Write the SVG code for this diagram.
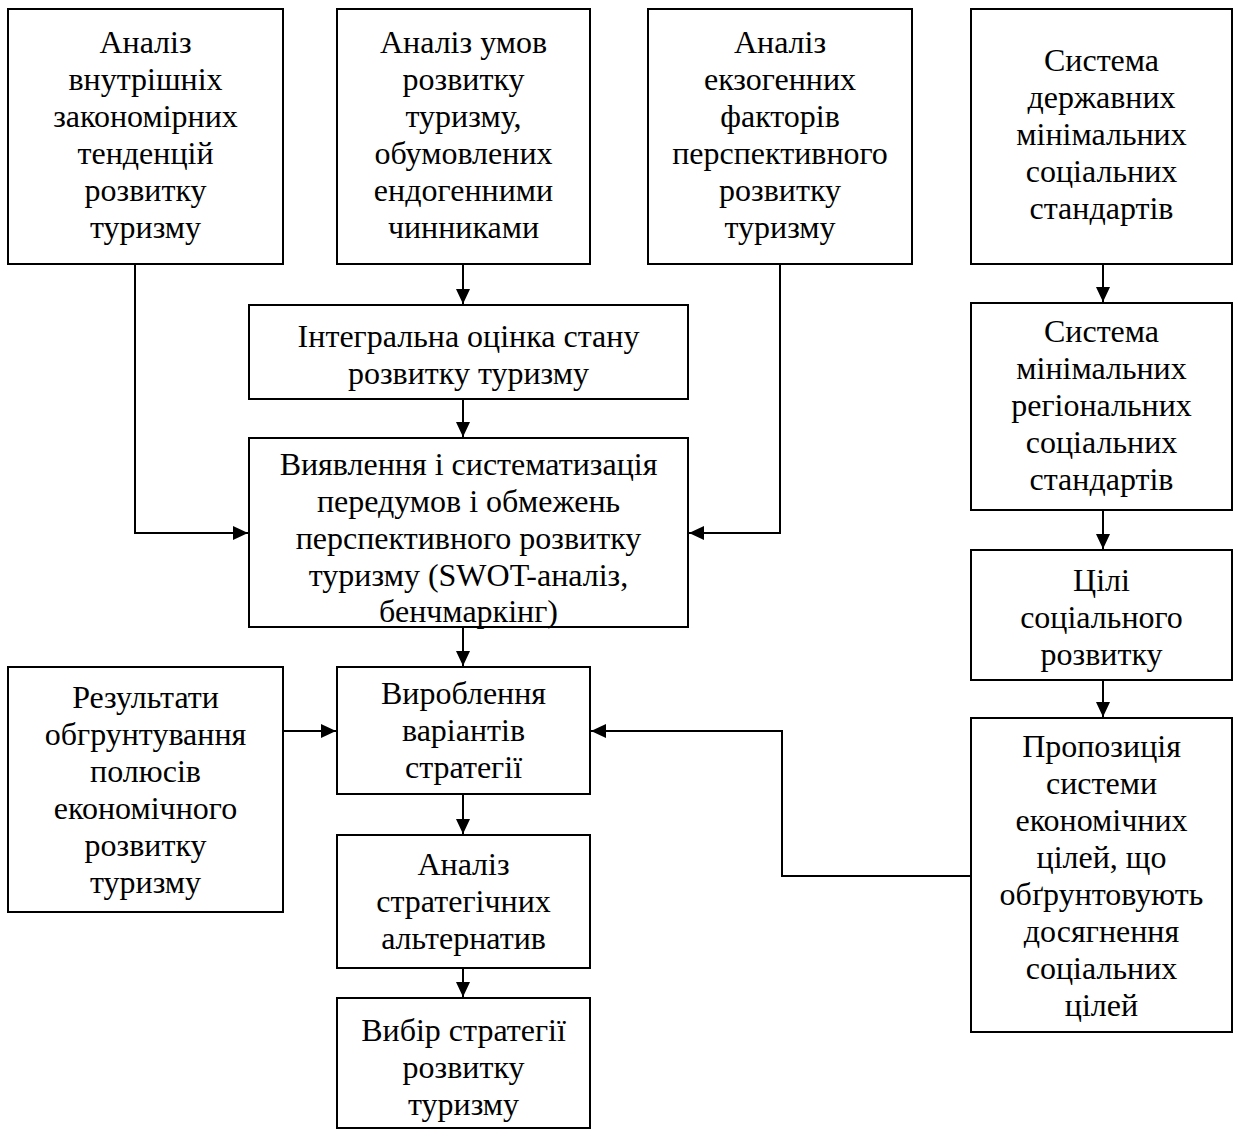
<svg xmlns="http://www.w3.org/2000/svg" width="1234" height="1130" viewBox="0 0 1234 1130">
<style>
rect.n{fill:#fff;stroke:#000;stroke-width:2}
text{font-family:"Liberation Serif","Times New Roman",serif;font-size:32px;fill:#000;text-anchor:middle}
.c{fill:none;stroke:#000;stroke-width:2}
</style>
<defs>
<marker id="ah" markerUnits="userSpaceOnUse" markerWidth="16" markerHeight="14" refX="15" refY="7" orient="auto">
<path d="M0,0 L15,7 L0,14 Z" fill="#000"/>
</marker>
</defs>
<rect width="1234" height="1130" fill="#fff"/>
<g id="connectors">
<path class="c" d="M135,264 V533 H248" marker-end="url(#ah)"/>
<path class="c" d="M463,264 V304" marker-end="url(#ah)"/>
<path class="c" d="M780,264 V533 H689" marker-end="url(#ah)"/>
<path class="c" d="M1103,264 V302" marker-end="url(#ah)"/>
<path class="c" d="M463,399 V437" marker-end="url(#ah)"/>
<path class="c" d="M1103,510 V549" marker-end="url(#ah)"/>
<path class="c" d="M463,627 V666" marker-end="url(#ah)"/>
<path class="c" d="M1103,680 V717" marker-end="url(#ah)"/>
<path class="c" d="M283,731 H336" marker-end="url(#ah)"/>
<path class="c" d="M971,876 H782 V731 H591" marker-end="url(#ah)"/>
<path class="c" d="M463,794 V834" marker-end="url(#ah)"/>
<path class="c" d="M463,968 V997" marker-end="url(#ah)"/>
</g>
<g id="n1"><rect class="n" x="8" y="9" width="275" height="255"/>
<text><tspan x="145.5" y="53">Аналіз</tspan><tspan x="145.5" y="90">внутрішніх</tspan><tspan x="145.5" y="127">закономірних</tspan><tspan x="145.5" y="164">тенденцій</tspan><tspan x="145.5" y="201">розвитку</tspan><tspan x="145.5" y="238">туризму</tspan></text></g>
<g id="n2"><rect class="n" x="337" y="9" width="253" height="255"/>
<text><tspan x="463.5" y="53">Аналіз умов</tspan><tspan x="463.5" y="90">розвитку</tspan><tspan x="463.5" y="127">туризму,</tspan><tspan x="463.5" y="164">обумовлених</tspan><tspan x="463.5" y="201">ендогенними</tspan><tspan x="463.5" y="238">чинниками</tspan></text></g>
<g id="n3"><rect class="n" x="648" y="9" width="264" height="255"/>
<text><tspan x="780" y="53">Аналіз</tspan><tspan x="780" y="90">екзогенних</tspan><tspan x="780" y="127">факторів</tspan><tspan x="780" y="164">перспективного</tspan><tspan x="780" y="201">розвитку</tspan><tspan x="780" y="238">туризму</tspan></text></g>
<g id="n4"><rect class="n" x="971" y="9" width="261" height="255"/>
<text><tspan x="1101.5" y="71">Система</tspan><tspan x="1101.5" y="108">державних</tspan><tspan x="1101.5" y="145">мінімальних</tspan><tspan x="1101.5" y="182">соціальних</tspan><tspan x="1101.5" y="219">стандартів</tspan></text></g>
<g id="n5"><rect class="n" x="249" y="305" width="439" height="94"/>
<text><tspan x="468.5" y="347">Інтегральна оцінка стану</tspan><tspan x="468.5" y="384">розвитку туризму</tspan></text></g>
<g id="n6"><rect class="n" x="249" y="438" width="439" height="189"/>
<text><tspan x="468.5" y="475">Виявлення і систематизація</tspan><tspan x="468.5" y="512">передумов і обмежень</tspan><tspan x="468.5" y="549">перспективного розвитку</tspan><tspan x="468.5" y="586">туризму (SWOT-аналіз,</tspan><tspan x="468.5" y="622">бенчмаркінг)</tspan></text></g>
<g id="n7"><rect class="n" x="971" y="303" width="261" height="207"/>
<text><tspan x="1101.5" y="342">Система</tspan><tspan x="1101.5" y="379">мінімальних</tspan><tspan x="1101.5" y="416">регіональних</tspan><tspan x="1101.5" y="453">соціальних</tspan><tspan x="1101.5" y="490">стандартів</tspan></text></g>
<g id="n8"><rect class="n" x="971" y="550" width="261" height="130"/>
<text><tspan x="1101.5" y="591">Цілі</tspan><tspan x="1101.5" y="628">соціального</tspan><tspan x="1101.5" y="665">розвитку</tspan></text></g>
<g id="n9"><rect class="n" x="971" y="718" width="261" height="314"/>
<text><tspan x="1101.5" y="757">Пропозиція</tspan><tspan x="1101.5" y="794">системи</tspan><tspan x="1101.5" y="831">економічних</tspan><tspan x="1101.5" y="868">цілей, що</tspan><tspan x="1101.5" y="905">обґрунтовують</tspan><tspan x="1101.5" y="942">досягнення</tspan><tspan x="1101.5" y="979">соціальних</tspan><tspan x="1101.5" y="1016">цілей</tspan></text></g>
<g id="n10"><rect class="n" x="337" y="667" width="253" height="127"/>
<text><tspan x="463.5" y="704">Вироблення</tspan><tspan x="463.5" y="741">варіантів</tspan><tspan x="463.5" y="778">стратегії</tspan></text></g>
<g id="n11"><rect class="n" x="8" y="667" width="275" height="245"/>
<text><tspan x="145.5" y="708">Результати</tspan><tspan x="145.5" y="745">обгрунтування</tspan><tspan x="145.5" y="782">полюсів</tspan><tspan x="145.5" y="819">економічного</tspan><tspan x="145.5" y="856">розвитку</tspan><tspan x="145.5" y="893">туризму</tspan></text></g>
<g id="n12"><rect class="n" x="337" y="835" width="253" height="133"/>
<text><tspan x="463.5" y="875">Аналіз</tspan><tspan x="463.5" y="912">стратегічних</tspan><tspan x="463.5" y="949">альтернатив</tspan></text></g>
<g id="n13"><rect class="n" x="337" y="998" width="253" height="130"/>
<text><tspan x="463.5" y="1041">Вибір стратегії</tspan><tspan x="463.5" y="1078">розвитку</tspan><tspan x="463.5" y="1115">туризму</tspan></text></g>
</svg>
